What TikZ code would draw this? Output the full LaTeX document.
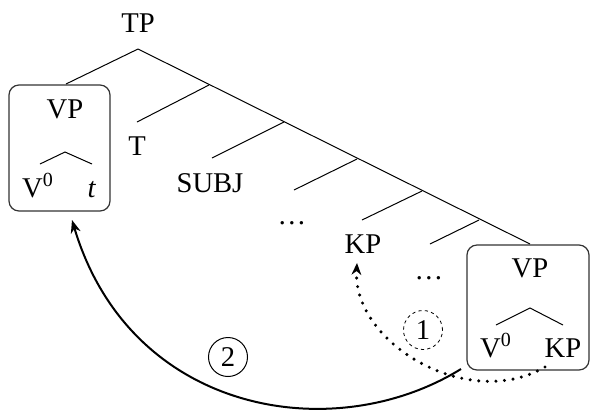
\documentclass[tikz,border=0pt]{standalone}
\usepackage{fontspec}
\setmainfont{Liberation Serif}
\usetikzlibrary{arrows.meta}
\begin{document}
\begin{tikzpicture}[x=0.5pt,y=-0.5pt,
  font=\fontsize{14.3}{17}\selectfont,
  lbl/.style={inner sep=0pt, anchor=base},
  branch/.style={line width=0.5pt},
  boxed/.style={draw=black!80, line width=0.6pt, rounded corners=5pt, inner sep=0pt},
  num/.style={circle, draw, line width=0.5pt, minimum size=19.5pt, inner sep=0pt},
  move/.style={line width=1pt, -{Stealth[length=6.5pt,width=5pt]}},
  dotmove/.style={line width=1.7pt, line cap=round, dash pattern=on 0pt off 4.3pt, -{Stealth[length=6pt,width=5pt,line width=0pt]}}]
\useasboundingbox (0,0) rectangle (590,409);
% boxes
\node[boxed, minimum width=50.5pt, minimum height=63pt] (lbox) at (59.5,148) {};
\node[boxed, minimum width=61pt, minimum height=62.5pt] (rbox) at (528,307.5) {};
% labels
\node[lbl] (tp) at (138,32) {TP};
\node[lbl] (lvp) at (65,118) {VP};
\node[lbl] (lv0) at (38,197) {V\textsuperscript{0}};
\node[lbl] (lt) at (92,197) {\textit{t}};
\node[lbl] (t) at (137,155) {T};
\node[lbl] (subj) at (210,192) {SUBJ};
\node[lbl] (dots1) at (292,224) {\ldots};
\node[lbl] (kp) at (363,253) {KP};
\node[lbl] (dots2) at (429,279) {\ldots};
\node[lbl] (rvp) at (530,277) {VP};
\node[lbl] (rv0) at (496,357) {V\textsuperscript{0}};
\node[lbl] (rkp) at (563,357) {KP};
% tree coordinates
\coordinate (j0) at (138,49);
\coordinate (j1) at (209,85);
\coordinate (j2) at (284,122);
\coordinate (j3) at (357,159);
\coordinate (j4) at (422,191);
\coordinate (j5) at (479,220);
\coordinate (jend) at (530,244);
\coordinate (bvp) at (66,84);
\coordinate (bt) at (137,122);
\coordinate (bsubj) at (212,158);
\coordinate (bd1) at (294,190);
\coordinate (bkp) at (362,220);
\coordinate (bd2) at (430,244);
\draw[branch] (j0) -- (jend);
\draw[branch] (j0) -- (bvp);
\draw[branch] (j1) -- (bt);
\draw[branch] (j2) -- (bsubj);
\draw[branch] (j3) -- (bd1);
\draw[branch] (j4) -- (bkp);
\draw[branch] (j5) -- (bd2);
% small trees in boxes
\coordinate (la) at (65,152);
\coordinate (ll) at (40,164);
\coordinate (lr) at (92,164);
\draw[branch] (ll) -- (la) -- (lr);
\coordinate (ra) at (530,308);
\coordinate (rl) at (496,325);
\coordinate (rr) at (563,325);
\draw[branch] (rl) -- (ra) -- (rr);
% numbered circles
\node[num] (c2) at (228,357) {2};
\node[num, line width=0.4pt, dash pattern=on 1.6pt off 1.6pt] (c1) at (423,330) {1};
% movement arrows
\coordinate (s2) at (461,369);
\coordinate (e2) at (72,220);
\draw[move] (s2) .. controls (333,448) and (130,414) .. (e2);
\coordinate (s1) at (545,367);
\coordinate (e1) at (357,263);
\draw[dotmove] (s1) .. controls (468,412) and (353,343) .. (e1);
\end{tikzpicture}
\end{document}
